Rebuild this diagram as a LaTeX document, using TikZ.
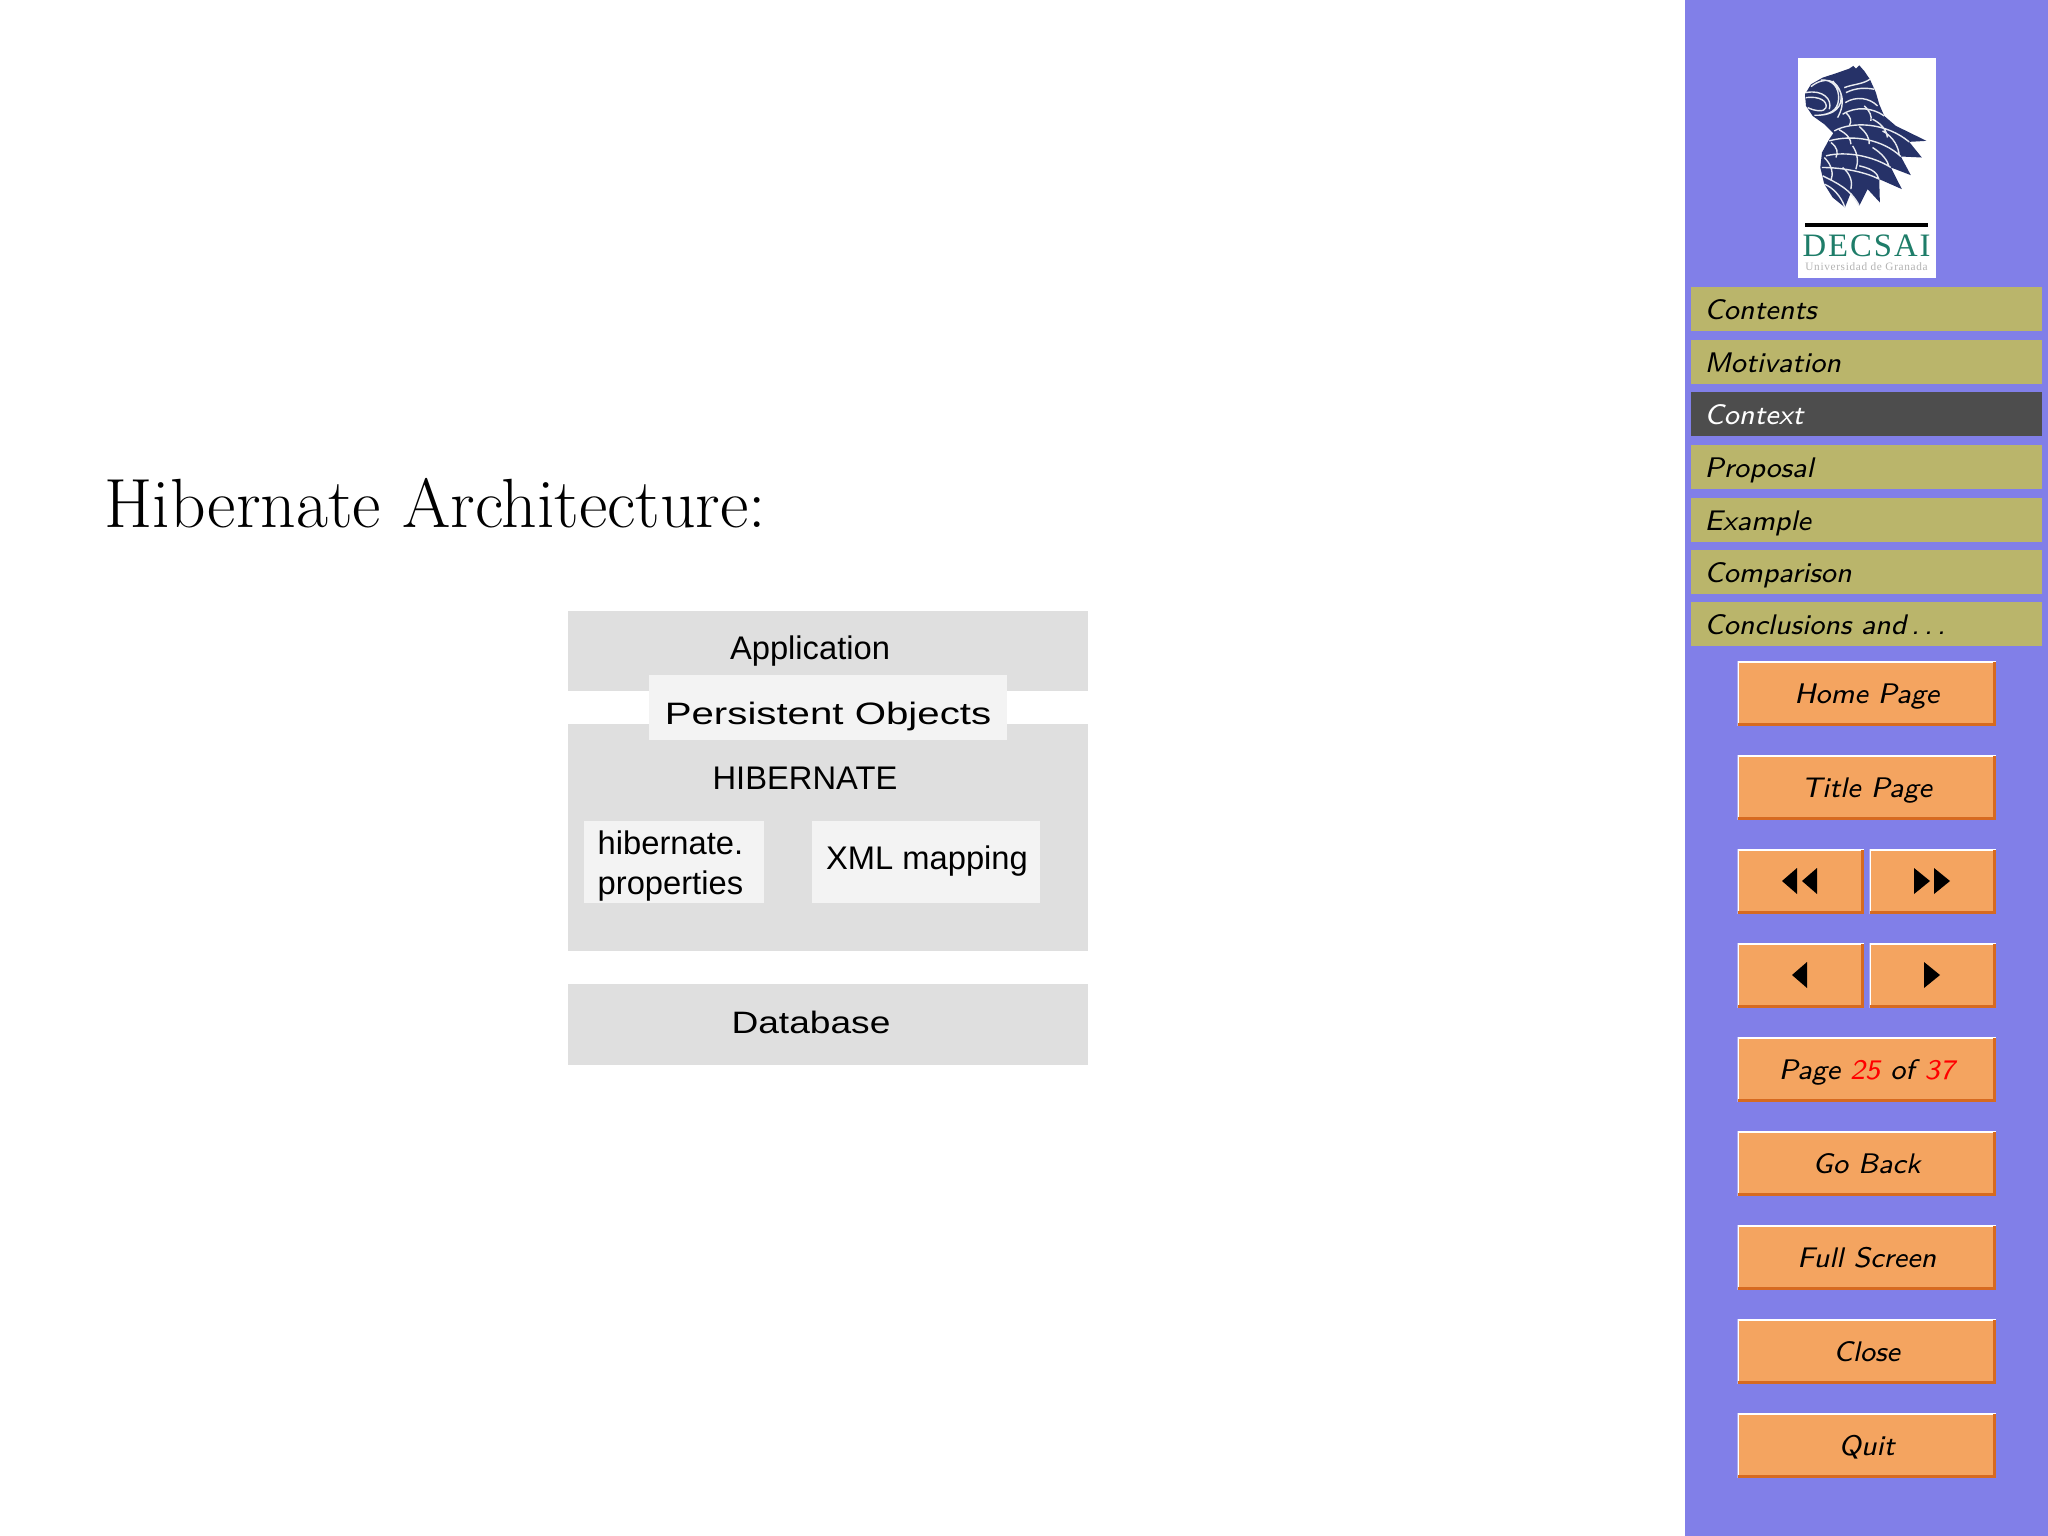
\documentclass[tikz,border=0pt]{standalone}
\usepackage{fontspec}
\newfontfamily\diagfont{Liberation Sans}
\newfontfamily\logofont[LetterSpace=6]{Liberation Serif}
\definecolor{sidebar}{RGB}{129,127,232}
\definecolor{navcol}{RGB}{186,181,107}
\definecolor{navdark}{RGB}{77,77,77}
\definecolor{btncol}{RGB}{244,164,96}
\definecolor{btnedge}{RGB}{214,106,32}
\definecolor{boxgray}{RGB}{223,223,223}
\definecolor{boxlight}{RGB}{243,243,243}
\definecolor{logoblue}{RGB}{38,50,104}
\definecolor{logogreen}{RGB}{30,125,105}
\tikzset{
  block/.style={fill=boxgray,anchor=north west,inner sep=0pt,minimum width=5.20cm},
  lightblock/.style={fill=boxlight,anchor=north west,inner sep=0pt},
  difftext/.style={font=\diagfont\fontsize{9.3}{11.5}\selectfont,inner sep=0pt},
  flattext/.style={font=\diagfont\fontsize{8.8}{11}\selectfont,inner sep=0pt},
  navitem/.style={fill=navcol,anchor=north west,minimum height=0.44cm,text width=3.23cm,
    inner xsep=0.14cm,inner ysep=0pt,align=left,text height=0.30cm,text depth=0.08cm,
    font=\sffamily\itshape\fontsize{8.05}{10}\selectfont},
  navbutton/.style={fill=btncol,anchor=north west,minimum height=0.64cm,minimum width=2.58cm,inner sep=0pt,
    text height=0.28cm,text depth=0.08cm,
    font=\sffamily\itshape\fontsize{8.05}{10}\selectfont,
    path picture={
      \draw[white,line width=0.035cm] (path picture bounding box.south west) -- (path picture bounding box.north west) -- (path picture bounding box.north east);
      \draw[btnedge,line width=0.05cm] (path picture bounding box.south west) -- (path picture bounding box.south east) -- (path picture bounding box.north east);
    }},
  halfbutton/.style={navbutton,minimum width=1.26cm}
}
\begin{document}
\begin{tikzpicture}[x=0.01cm,y=-0.01cm]
\useasboundingbox (0,0) rectangle (2048,1536);
\fill[white] (0,0) rectangle (2048,1536);

% slide
\node (title) at (104,527) [anchor=base west,inner sep=0pt,font=\fontsize{19.8}{24}\selectfont]{Hibernate Architecture:};

\node (application) at (567,610) [block,minimum height=0.80cm]{};
\node (hibernate) at (567,723) [block,minimum height=2.27cm]{};
\node (database) at (567,983) [block,minimum height=0.81cm]{};
\node (persistent) at (648,674) [lightblock,minimum width=3.58cm,minimum height=0.65cm]{};
\node (properties) at (583,820) [lightblock,minimum width=1.80cm,minimum height=0.82cm]{};
\node (mapping) at (811,820) [lightblock,minimum width=2.28cm,minimum height=0.82cm]{};

\node (applicationtext) at (810,651) [difftext]{Application};
\node (persistenttext) at (828,716) [flattext]{\scalebox{1.3}[1]{Persistent Objects}};
\node (hibernatetext) at (805,778) [difftext]{HIBERNATE};
\node (propertiestext) at (597,866) [difftext,anchor=west,align=left]{hibernate.\\properties};
\node (mappingtext) at (927,861) [difftext]{XML mapping};
\node (databasetext) at (811,1022) [flattext]{\scalebox{1.2}[1]{Database}};

% side panel
\fill[sidebar] (1685,0) rectangle (2048,1536);
\node (logo) at (1797,57) [fill=white,anchor=north west,inner sep=0pt,minimum width=1.38cm,minimum height=2.20cm]{};

\begin{scope}[shift={(1796,56)},x=0.00333cm,y=-0.00333cm]
\fill[logoblue] (160,38) -- (172,30) -- (180,38) -- (190,28) -- (205,45) -- (222,70) -- (240,110) -- (250,145)
  -- (265,180) -- (300,210) -- (345,232) -- (392,255) -- (340,258) -- (378,305) -- (315,302) -- (345,358) -- (285,335)
  -- (318,400) -- (250,370) -- (252,440) -- (215,400) -- (190,450) -- (165,410) -- (147,455) -- (110,425) -- (85,385)
  -- (73,335) -- (78,290) -- (100,250) -- (112,232) -- (85,205) -- (50,180) -- (30,150) -- (27,115) -- (45,85)
  -- (80,65) -- (120,52) -- cycle;
\draw[white!90!logoblue,line width=0.014cm]
  (45,92) .. controls (85,60) and (125,70) .. (135,115) .. controls (140,150) and (120,180) .. (55,178)
  (75,72) .. controls (110,70) and (130,95) .. (128,130) .. controls (125,165) and (100,175) .. (70,178)
  (30,125) .. controls (70,120) and (95,135) .. (90,155) .. controls (85,170) and (55,165) .. (35,155)
  (30,110) .. controls (80,100) and (110,130) .. (100,160)
  (110,75) .. controls (140,105) and (150,140) .. (125,185)
  (145,95) .. controls (170,85) and (200,85) .. (222,70)
  (150,110) .. controls (180,95) and (210,95) .. (235,100)
  (148,140) .. controls (180,120) and (220,125) .. (245,150)
  (140,175) .. controls (180,150) and (230,155) .. (265,180)
  (115,225) .. controls (170,195) and (270,200) .. (340,258)
  (100,255) .. controls (170,235) and (260,250) .. (315,302)
  (90,300) .. controls (150,285) and (230,300) .. (285,335)
  (78,335) .. controls (130,335) and (200,345) .. (250,370)
  (80,360) .. controls (120,380) and (165,400) .. (190,450)
  (85,385) .. controls (110,395) and (135,420) .. (147,455)
  (150,170) .. controls (165,185) and (168,195) .. (160,210)
  (205,150) .. controls (222,165) and (228,180) .. (225,195)
  (230,190) .. controls (260,205) and (272,225) .. (275,245)
  (130,222) .. controls (155,235) and (165,250) .. (165,265)
  (190,212) .. controls (212,230) and (222,250) .. (220,265)
  (260,225) .. controls (295,245) and (308,275) .. (310,298)
  (105,260) .. controls (125,275) and (127,290) .. (120,305)
  (170,270) .. controls (187,295) and (187,320) .. (180,340)
  (230,275) .. controls (262,295) and (275,315) .. (280,333)
  (85,305) .. controls (110,330) and (112,355) .. (105,375)
  (140,335) .. controls (165,355) and (170,380) .. (165,400)
  (190,330) .. controls (235,340) and (245,355) .. (248,368);
\end{scope}
\fill[black] (1805,223) rectangle (1928,227);
\node (decsai) at (1866.5,246) [inner sep=0pt,text=logogreen,font=\logofont\fontsize{9.3}{10}\selectfont]{DECSAI};
\node (granada) at (1866.5,267) [inner sep=0pt,text=black!30,font=\logofont\fontsize{3.2}{4}\selectfont]{Universidad de Granada};

\node (contents) at (1690,286) [navitem]{Contents};
\node (motivation) at (1690,339) [navitem]{Motivation};
\node (context) at (1690,391) [navitem,fill=navdark,text=white]{Context};
\node (proposal) at (1690,444) [navitem]{Proposal};
\node (example) at (1690,497) [navitem]{Example};
\node (comparison) at (1690,549) [navitem]{Comparison};
\node (conclusions) at (1690,601) [navitem]{Conclusions and\,.\,.\,.};

\node (home) at (1737,661) [navbutton]{Home Page};
\node (titlepage) at (1737,755) [navbutton]{Title Page};
\node (fastback) at (1737,849) [halfbutton]{};
\node (fastfwd) at (1869,849) [halfbutton]{};
\node (back) at (1737,943) [halfbutton]{};
\node (fwd) at (1869,943) [halfbutton]{};
\node (page) at (1737,1037) [navbutton]{Page {\color{red}25} of {\color{red}37}};
\node (goback) at (1737,1131) [navbutton]{Go Back};
\node (fullscreen) at (1737,1225) [navbutton]{Full Screen};
\node (close) at (1737,1319) [navbutton]{Close};
\node (quit) at (1737,1413) [navbutton]{Quit};

% arrows on the buttons
\fill[black] (1782,881) -- (1797,868) -- (1797,894) -- cycle;
\fill[black] (1802,881) -- (1817,868) -- (1817,894) -- cycle;
\fill[black] (1930,881) -- (1914,868) -- (1914,894) -- cycle;
\fill[black] (1950,881) -- (1934,868) -- (1934,894) -- cycle;
\fill[black] (1792,975) -- (1807,962) -- (1807,988) -- cycle;
\fill[black] (1940,975) -- (1924,962) -- (1924,988) -- cycle;

\end{tikzpicture}
\end{document}
